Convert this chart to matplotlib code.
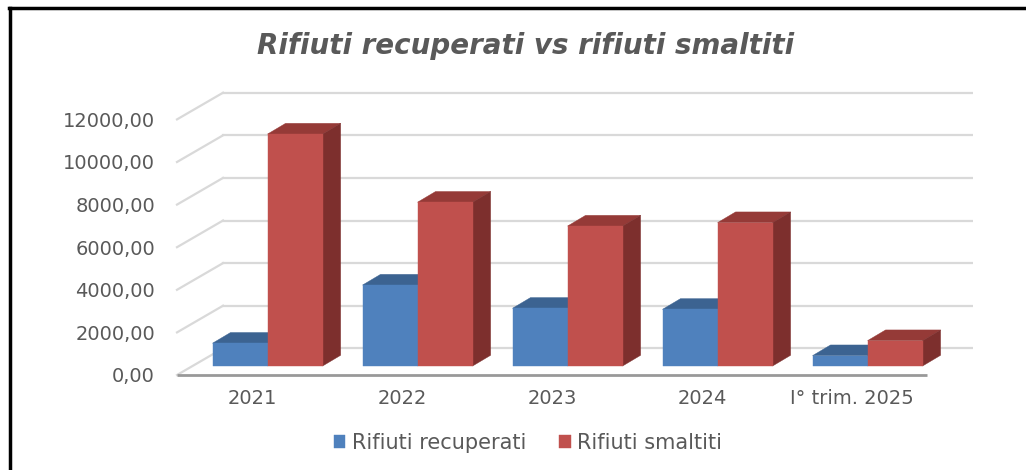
import matplotlib
matplotlib.use("Agg")
import matplotlib.pyplot as plt
from matplotlib.patches import Polygon
from matplotlib.lines import Line2D

# data
categories = ["2021", "2022", "2023", "2024", "I° trim. 2025"]
recuperati = [1070, 3800, 2710, 2660, 485]
smaltiti = [10890, 7690, 6570, 6730, 1190]
yticks = [0, 2000, 4000, 6000, 8000, 10000, 12000]
ytick_labels = ["0,00", "2000,00", "4000,00", "6000,00", "8000,00", "10000,00", "12000,00"]

# colours (Excel 2010 palette)
blue_front, blue_top, blue_side = "#4F81BD", "#3C6391", "#385D8A"
red_front, red_top, red_side = "#C0504D", "#953A37", "#7D2F2D"
text_grey = "#595959"

# fake 3D geometry (category units, value units)
DX, DY = 0.307, 1253       # floor depth (front -> back wall)
BX0, BY0 = 0.104, 423      # offset of bar front face from front plane
W = 0.367                  # single bar width
BDX, BDY = 0.12, 502       # bar depth

fig = plt.figure(figsize=(10.26, 4.70), dpi=100)
ax = fig.add_axes([177 / 1026, 95 / 470, 796 / 1026, 290 / 470])
n = len(categories)
ax.set_xlim(-0.5, n - 0.5 + DX)
ax.set_ylim(0, 13615)
for s in ax.spines.values():
    s.set_visible(False)

# walls: back gridlines + left diagonals
for v in yticks:
    ax.plot([-0.5 + DX, n - 0.5 + DX], [v + DY, v + DY], color="#D9D9D9", lw=1.6, zorder=1)
    ax.plot([-0.5, -0.5 + DX], [v, v + DY], color="#D9D9D9", lw=1.6, zorder=1, clip_on=False)
# category axis line (floor front edge)
ax.plot([-0.5, n - 0.5], [0, 0], color="#999999", lw=2, zorder=1, clip_on=False, solid_capstyle="butt")


def bar3d(xs, hs, front, top, side, label, z):
    bars = ax.bar(xs, hs, width=W, bottom=BY0, align="edge", color=front,
                  edgecolor=front, linewidth=0.3, label=label, zorder=z + 0.5)
    for x, h in zip(xs, hs):
        y1 = BY0 + h
        ax.add_patch(Polygon([(x, y1), (x + W, y1), (x + W + BDX, y1 + BDY), (x + BDX, y1 + BDY)],
                             closed=True, facecolor=top, edgecolor=top, lw=0.3, zorder=z))
        ax.add_patch(Polygon([(x + W, BY0), (x + W + BDX, BY0 + BDY), (x + W + BDX, y1 + BDY), (x + W, y1)],
                             closed=True, facecolor=side, edgecolor=side, lw=0.3, zorder=z))
    return bars


xs_blue = [i + BX0 - W for i in range(n)]
xs_red = [i + BX0 for i in range(n)]
b1 = bar3d(xs_blue, recuperati, blue_front, blue_top, blue_side, "Rifiuti recuperati", 2)
b2 = bar3d(xs_red, smaltiti, red_front, red_top, red_side, "Rifiuti smaltiti", 3)

ax.set_xticks(range(n))
ax.set_xticklabels(categories)
ax.set_yticks(yticks)
ax.set_yticklabels(ytick_labels)
ax.tick_params(axis="x", length=0, pad=10, labelsize=14, labelcolor=text_grey)
ax.tick_params(axis="y", length=0, pad=15.8, labelsize=14, labelcolor=text_grey)

fig.text(526 / 1026, 1 - 46 / 470, "Rifiuti recuperati vs rifiuti smaltiti", ha="center", va="center",
         fontsize=20, fontweight="bold", fontstyle="italic", color=text_grey)

fig.legend(handles=[b1, b2], loc="center", bbox_to_anchor=(528 / 1026, 1 - 443 / 470), ncol=2,
           frameon=False, fontsize=15, handlelength=0.55, handleheight=0.6, handletextpad=0.3,
           columnspacing=1.6, labelcolor=text_grey)

# outer frame (cropped screenshot: only top and left edges show)
fig.add_artist(Line2D([9 / 1026, 1], [1 - 8 / 470, 1 - 8 / 470], transform=fig.transFigure,
                      color="black", lw=2.5))
fig.add_artist(Line2D([10 / 1026, 10 / 1026], [0, 1 - 8 / 470], transform=fig.transFigure,
                      color="black", lw=2.5))

fig.savefig("out.png", dpi=100)
